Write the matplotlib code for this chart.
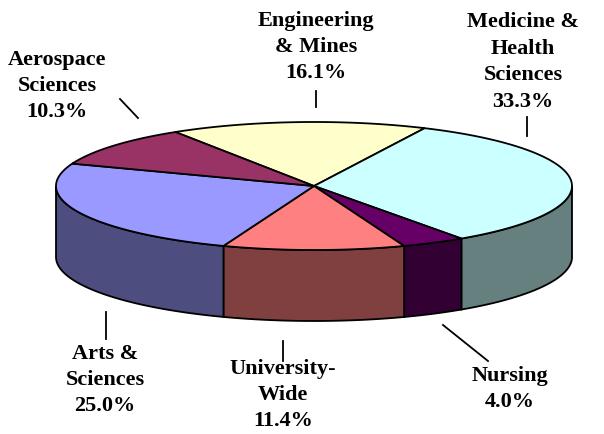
import matplotlib
matplotlib.use("Agg")
import matplotlib.pyplot as plt
import numpy as np
from matplotlib.patches import Polygon

# data, clockwise from the top
labels = ["Engineering\n& Mines", "Medicine &\nHealth\nSciences", "Nursing",
          "University-\nWide", "Arts &\nSciences", "Aerospace\nSciences"]
shares = [16.1, 33.3, 4.0, 11.4, 25.0, 10.3]
top_colors = ["#FFFFCC", "#CCFFFF", "#660066", "#FF8080", "#9999FF", "#993366"]
side_colors = ["#80807F", "#668080", "#330033", "#804040", "#4D4D80", "#4D1A33"]

# layout in pixels (y downwards)
cx, cy = 314, 187
rx, ry = 258, 64
depth = 71
start_angle = 122.5
label_pos = [(316, 47), (523, 62), (510, 389), (283, 395), (105, 380), (57, 86)]
leaders = [((316, 92), (316, 108)), ((527, 118), (527, 137)), ((443, 326), (488, 362)),
           ((283, 342), (283, 362)), ((106, 313), (106, 340)), ((120, 100), (138, 119))]


def rim(t, dy=0):
    t = np.radians(t)
    return np.column_stack([cx + rx * np.cos(t), cy - ry * np.sin(t) + dy])


fig = plt.figure(figsize=(6.04, 4.35), dpi=100)
ax = fig.add_axes([0, 0, 1, 1])
ax.set_xlim(0, 604)
ax.set_ylim(435, 0)
ax.axis("off")

total = sum(shares)
spans = []
a = start_angle
for s in shares:
    b = a - 360.0 * s / total
    spans.append((a, b))
    a = b

# side walls: only the front half (angles between -180 and 0) shows
for (a, b), col in zip(spans, side_colors):
    for k in (0, -360):
        hi = min(a + k, 0)
        lo = max(b + k, -180)
        if hi <= lo:
            continue
        t = np.linspace(hi, lo, 60)
        pts = np.vstack([rim(t), rim(t[::-1], depth)])
        ax.add_patch(Polygon(pts, closed=True, facecolor=col, edgecolor="black", lw=1.3))

# top faces
for (a, b), col in zip(spans, top_colors):
    t = np.linspace(a, b, 120)
    pts = np.vstack([[cx, cy], rim(t)])
    ax.add_patch(Polygon(pts, closed=True, facecolor=col, edgecolor="black", lw=1.3))

# labels and leader lines
for lab, s, (x, y), (p, q) in zip(labels, shares, label_pos, leaders):
    ax.text(x, y, lab + "\n" + "{:.1f}%".format(s), ha="center", va="center",
            family="Liberation Serif", weight="bold", fontsize=16, linespacing=1.43)
    ax.plot([p[0], q[0]], [p[1], q[1]], color="black", lw=1.3)

fig.savefig("out.png", dpi=100)
